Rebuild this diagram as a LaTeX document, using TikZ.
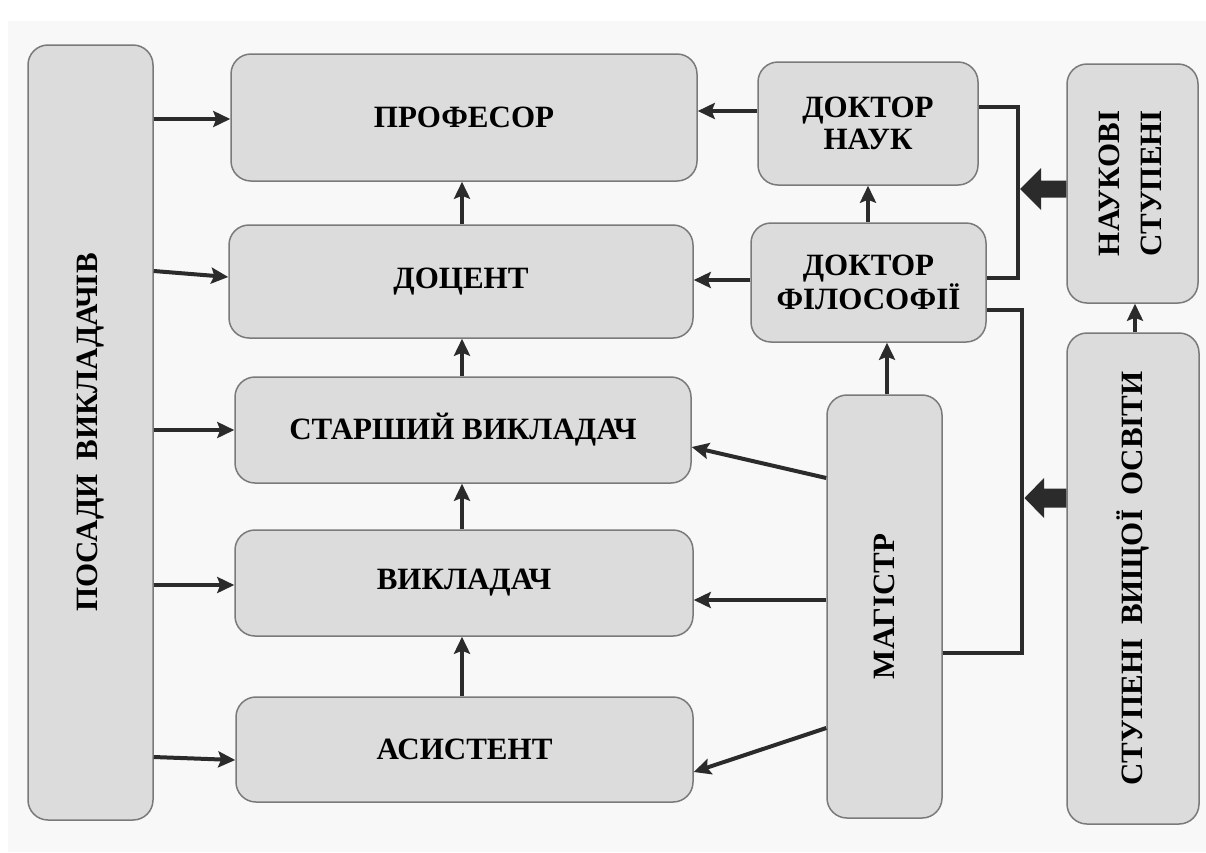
\documentclass[tikz,border=0pt]{standalone}
\usepackage{fontspec}
\setmainfont{Liberation Serif}[BoldFont={Liberation Serif Bold}]
\newfontfamily\lserif{Liberation Serif Bold}
\usepackage{graphicx}
\usetikzlibrary{arrows.meta,calc}
\definecolor{boxfill}{HTML}{DCDCDC}
\definecolor{boxline}{HTML}{7A7A7A}
\definecolor{ink}{HTML}{2B2B2B}
\definecolor{bgc}{HTML}{F8F8F8}
\begin{document}
\begin{tikzpicture}[x=1pt,y=-1pt,
  box/.style={draw=boxline, line width=1.5pt, fill=boxfill, rounded corners=20pt,
    inner sep=0pt, align=center, text=black,
    font=\lserif\fontsize{31}{32}\selectfont},
  conn/.style={draw=ink, line width=4pt,
    -{Stealth[length=17pt,width=16pt,inset=3pt]}},
  brk/.style={draw=ink, line width=4.5pt},
  blk/.style={fill=ink}]
\useasboundingbox (0,0) rectangle (1206,852);
\fill[white] (0,0) rectangle (1206,852);
\fill[bgc] (8,21) rectangle (1206,852);

% nodes
\node[box, minimum width=125pt, minimum height=775pt] (pos) at (90.5,432.5)
  {\rotatebox{90}{ПОСАДИ\hspace{0.45em}ВИКЛАДАЧІВ}};
\node[box, minimum width=466pt, minimum height=127pt] (prof) at (464,117.5) {ПРОФЕСОР};
\node[box, minimum width=464pt, minimum height=113pt] (doc) at (461,281.5) {ДОЦЕНТ};
\node[box, minimum width=456pt, minimum height=106pt] (star) at (463,430) {СТАРШИЙ ВИКЛАДАЧ};
\node[box, minimum width=458pt, minimum height=106pt] (vykl) at (464,583) {ВИКЛАДАЧ};
\node[box, minimum width=457pt, minimum height=105pt] (asys) at (464.5,749.5) {АСИСТЕНТ};
\node[box, minimum width=220pt, minimum height=123pt] (dn) at (868,123.5) {ДОКТОР\\НАУК};
\node[box, minimum width=235pt, minimum height=119pt] (df) at (868.5,282.5) {ДОКТОР\\ФІЛОСОФІЇ};
\node[box, minimum width=115pt, minimum height=423pt] (mag) at (884.5,606.5)
  {\rotatebox{90}{МАГІСТР}};
\node[box, minimum width=131pt, minimum height=239pt] (ns) at (1132.5,183.5)
  {\rotatebox{90}{\fontsize{31}{42}\selectfont\begin{tabular}{@{}c@{}}НАУКОВІ\\СТУПЕНІ\end{tabular}}};
\node[box, minimum width=132pt, minimum height=491pt] (svo) at (1133,578.5)
  {\rotatebox{90}{СТУПЕНІ\hspace{0.45em}ВИЩОЇ\hspace{0.45em}ОСВІТИ}};

% helper coordinates
\coordinate (vx) at (462,0);
\coordinate (bx1) at (1018,0);
\coordinate (bx2) at (1022,0);

% posady -> positions
\draw[conn] (pos.east |- 0,119) -- (prof.west |- 0,119);
\draw[conn] (pos.east |- 0,271) -- (doc.west |- 0,277);
\draw[conn] (pos.east |- 0,430) -- (star.west |- 0,430);
\draw[conn] (pos.east |- 0,585) -- (vykl.west |- 0,585);
\draw[conn] (pos.east |- 0,757) -- (asys.west |- 0,760);

% career ladder
\draw[conn] (asys.north -| vx) -- (vykl.south -| vx);
\draw[conn] (vykl.north -| vx) -- (star.south -| vx);
\draw[conn] (star.north -| vx) -- (doc.south -| vx);
\draw[conn] (doc.north -| vx) -- (prof.south -| vx);

% degrees -> positions
\draw[conn] (dn.west |- 0,111) -- (prof.east |- 0,111);
\draw[conn] (df.west |- 0,280) -- (doc.east |- 0,280);
\draw[conn] (df.north -| dn.south) -- (dn.south);
\draw[conn] (mag.north -| 887,0) -- (df.south -| 887,0);
\draw[conn] (mag.west |- 0,478) -- (star.east |- 0,447);
\draw[conn] (mag.west |- 0,600) -- (vykl.east |- 0,600);
\draw[conn] (mag.west |- 0,728) -- (asys.east |- 0,772);
\draw[conn] (svo.north -| 1135,0) -- (ns.south -| 1135,0);

% brackets
\draw[brk] (dn.east |- 0,107) -- (bx1 |- 0,107) -- (bx1 |- 0,278) -- (df.east |- 0,278);
\draw[brk] (df.east |- 0,310) -- (bx2 |- 0,310) -- (bx2 |- 0,653) -- (mag.east |- 0,653);

% block arrows
\fill[blk] (1020,189) -- (1041,168) -- (1041,180.5) -- (ns.west |- 0,180.5)
  -- (ns.west |- 0,197.5) -- (1041,197.5) -- (1041,210) -- cycle;
\fill[blk] (1024.5,498) -- (1044,478) -- (1044,488.5) -- (svo.west |- 0,488.5)
  -- (svo.west |- 0,507.5) -- (1044,507.5) -- (1044,518) -- cycle;
\end{tikzpicture}
\end{document}
